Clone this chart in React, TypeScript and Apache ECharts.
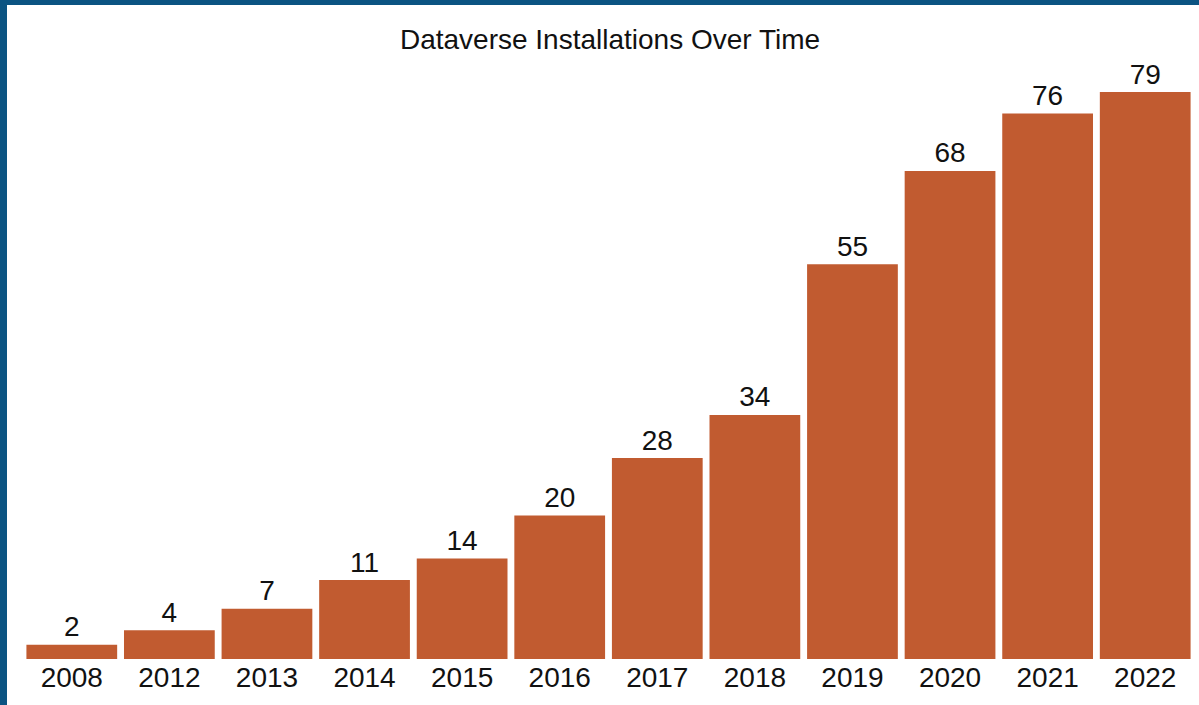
import React, { useEffect, useRef } from "react";
import * as echarts from "echarts";

const years = ["2008", "2012", "2013", "2014", "2015", "2016", "2017", "2018", "2019", "2020", "2021", "2022"];
const installations = [2, 4, 7, 11, 14, 20, 28, 34, 55, 68, 76, 79];

const FONT = "Liberation Sans, Arial, Helvetica, sans-serif";

export default function App() {
  const ref = useRef<HTMLDivElement>(null);
  useEffect(() => {
    if (!ref.current) return;
    const chart = echarts.init(ref.current, null, { renderer: "svg" });
    chart.setOption({
      animation: false,
      backgroundColor: "#ffffff",
      title: {
        text: "Dataverse Installations Over Time",
        left: 605,
        textAlign: "center",
        top: 20,
        textStyle: { fontFamily: FONT, fontSize: 28, fontWeight: "normal", color: "#111" },
      },
      grid: { left: 23, right: 5, top: 92, bottom: 46, containLabel: false },
      xAxis: {
        type: "category",
        data: years,
        axisLine: { show: false },
        axisTick: { show: false },
        axisLabel: { fontFamily: FONT, fontSize: 28, color: "#111", margin: 4 },
      },
      yAxis: { type: "value", min: 0, max: 79, show: false, splitLine: { show: false } },
      series: [
        {
          type: "bar",
          data: installations,
          barCategoryGap: "7%",
          itemStyle: { color: "#c15b30" },
          label: {
            show: true,
            position: "top",
            distance: 4,
            fontFamily: FONT,
            fontSize: 28,
            color: "#111",
          },
        },
      ],
    });
    return () => chart.dispose();
  }, []);
  return (
    <div style={{ position: "fixed", left: 0, top: 0, width: 1199, height: 705, background: "#fff" }}>
      <div ref={ref} style={{ position: "absolute", left: 0, top: 0, width: 1199, height: 705 }} />
      <div style={{ position: "absolute", left: 0, top: 0, width: 1199, height: 5, background: "#0b5482" }} />
      <div style={{ position: "absolute", left: 0, top: 0, width: 7, height: 705, background: "#0b5482" }} />
    </div>
  );
}
